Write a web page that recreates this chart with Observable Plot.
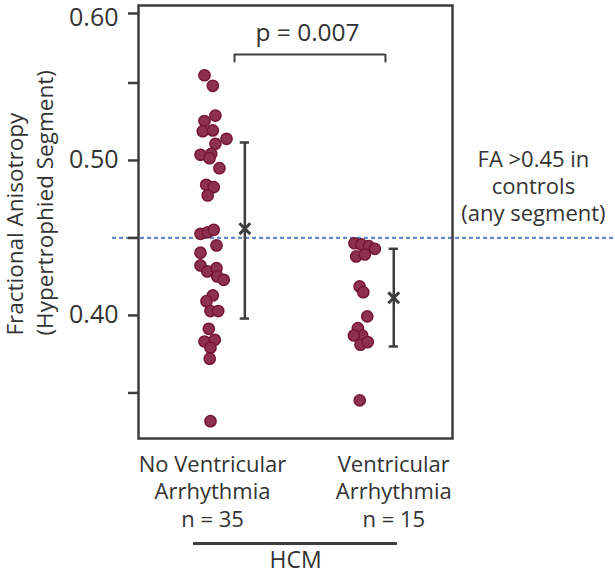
<!DOCTYPE html>
<html><head><meta charset="utf-8">
<script src="https://cdn.jsdelivr.net/npm/d3@7"></script>
<script src="https://cdn.jsdelivr.net/npm/@observablehq/plot@0.6"></script>
<style>
html,body{margin:0;padding:0;background:#fff;}
#chart svg{display:block;}
</style></head><body><div id="chart"></div>
<script>
// ---- data ----
const groupLabels = ["No Ventricular\nArrhythmia\nn = 35", "Ventricular\nArrhythmia\nn = 15"];
const groupPos = [1, 2];
const noVAValues = [0.5550,0.5482,0.5290,0.5254,0.5189,0.5194,0.5140,0.5108,0.5037,0.5043,0.5015,0.4950,0.4843,0.4828,0.4774,
  0.4527,0.4537,0.4553,0.4452,0.4405,0.4323,0.4284,0.4305,0.4252,0.4230,0.4129,0.4092,0.4028,0.4028,0.3914,0.3832,0.3843,0.3792,0.3721,0.3318];
const noVAJitter = [-0.052,0.002,0.019,-0.052,-0.063,0.002,0.091,0.019,-0.078,-0.008,-0.019,0.045,-0.041,0.008,-0.031,
  -0.078,-0.031,0.008,0.026,-0.078,-0.078,-0.034,0.026,0.031,0.073,0.002,-0.039,-0.013,0.037,-0.024,-0.052,0.015,-0.013,-0.018,-0.013];
const vaValues = [0.4466,0.4458,0.4447,0.4430,0.4381,0.4394,0.4187,0.4150,0.3994,0.3918,0.3871,0.3871,0.3811,0.3828,0.3452];
const vaJitter = [-0.078,-0.034,0.015,0.054,-0.067,-0.011,-0.045,-0.021,0.005,-0.056,-0.028,-0.082,-0.039,0.008,-0.044];
const means = [0.456, 0.4114];
const lowerBar = [0.398, 0.380];
const upperBar = [0.5116, 0.443];
const threshold = 0.45;
const pLabel = "p = 0.007";
const thresholdLabel = "FA >0.45 in\ncontrols\n(any segment)";
const yLabel = "Fractional Anisotropy\n(Hypertrophied Segment)";
const groupTitle = "HCM";
const yTicks = [0.35, 0.40, 0.45, 0.50, 0.55, 0.60];
const yTickLabels = ["", "0.40", "", "0.50", "", "0.60"];

// ---- layout constants ----
const ink = "#3d3d3d";
const textInk = "#333";
const yDomain = [0.3206, 0.6];
const barOffset = [0.21, 0.177];
const capHalf = 0.03;

const points = [
  ...noVAValues.map((v, i) => ({x: groupPos[0] + noVAJitter[i], y: v})),
  ...vaValues.map((v, i) => ({x: groupPos[1] + vaJitter[i], y: v}))
];
const summary = groupPos.map((g, i) => ({ex: g + barOffset[i], mean: means[i], lo: lowerBar[i], hi: upperBar[i]}));
const labelsData = groupPos.map((g, i) => ({x: i === 0 ? g : g + barOffset[i], label: groupLabels[i]}));
const tickFmt = d => yTickLabels[yTicks.findIndex(t => Math.abs(t - d) < 1e-9)];

const chart = Plot.plot({
  width: 615,
  height: 580,
  marginTop: 5,
  marginBottom: 142,
  marginLeft: 138,
  marginRight: 163,
  style: {fontFamily: "'Open Sans', sans-serif", color: textInk, background: "#fff", overflow: "visible"},
  x: {domain: [0.5195, 2.5584], axis: null},
  y: {domain: yDomain, axis: null},
  marks: [
    Plot.ruleY([threshold], {x1: 0.351, x2: 3.617, stroke: "#6289cf", strokeWidth: 2.2, strokeDasharray: "4,3"}),
    Plot.axisY(yTicks.slice(0, 5), {tickSize: 10, tickPadding: 10, tickFormat: tickFmt, fontSize: 25, stroke: ink, strokeWidth: 2.5, label: null}),
    Plot.axisY(yTicks.slice(5), {tickSize: 10, tickFormat: () => "", stroke: ink, strokeWidth: 2.5, label: null, dy: 8}),
    Plot.axisY(yTicks.slice(5), {tickSize: 0, tickPadding: 20, tickFormat: tickFmt, fontSize: 25, label: null, dy: 12}),
    Plot.frame({stroke: ink, strokeWidth: 2.5}),
    Plot.dot(points, {x: "x", y: "y", r: 5.6, fill: "#8d3150", stroke: "#771535", strokeWidth: 1.5}),
    Plot.ruleX(summary, {x: "ex", y1: "lo", y2: "hi", stroke: ink, strokeWidth: 2.5}),
    Plot.ruleY(summary, {y: "lo", x1: d => d.ex - capHalf, x2: d => d.ex + capHalf, stroke: ink, strokeWidth: 2.5}),
    Plot.ruleY(summary, {y: "hi", x1: d => d.ex - capHalf, x2: d => d.ex + capHalf, stroke: ink, strokeWidth: 2.5}),
    Plot.dot(summary, {x: "ex", y: "mean", symbol: "times", r: 5, stroke: ink, strokeWidth: 3}),
    // significance bracket
    Plot.ruleY([0.5684], {x1: 1.143, x2: 2.123, stroke: ink, strokeWidth: 2}),
    Plot.ruleX([1.143, 2.123], {y1: 0.5684, y2: 0.5630, stroke: ink, strokeWidth: 2}),
    Plot.text([pLabel], {x: 1.617, y: 0.582, text: d => d, fontSize: 24.5, fill: textInk}),
    Plot.text([thresholdLabel], {x: 3.084, y: 0.4839, text: d => d, fontSize: 22, lineHeight: 1.23, lineAnchor: "middle", fill: textInk}),
    // y label
    Plot.text([yLabel], {frameAnchor: "left", y: 0.387, dx: -110, rotate: -90, text: d => d, textAnchor: "start",
      lineAnchor: "middle", lineHeight: 1.3, fontSize: 22.5, fontWeight: 500, fill: textInk}),
    // category labels
    Plot.text(labelsData, {x: "x", frameAnchor: "bottom", dy: 52, text: "label", fontSize: 22, lineHeight: 1.27, lineAnchor: "middle", fill: textInk}),
    Plot.ruleY([yDomain[0]], {x1: 0.877, x2: 2.201, dy: 105, stroke: ink, strokeWidth: 3}),
    Plot.text([groupTitle], {x: 1.539, frameAnchor: "bottom", dy: 129, text: d => d, fontSize: 23, fill: textInk})
  ]
});
document.getElementById("chart").appendChild(chart);
</script>
</body></html>
